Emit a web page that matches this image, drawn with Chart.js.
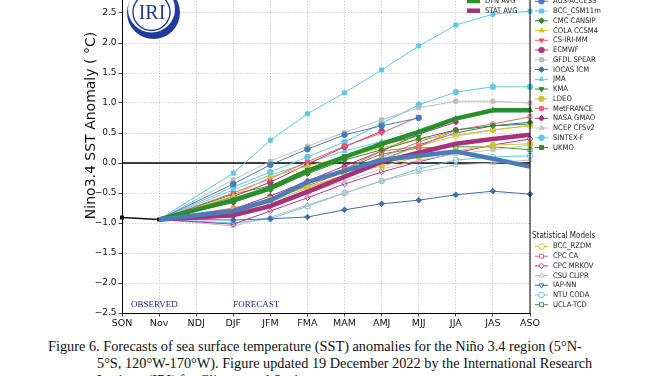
<!DOCTYPE html>
<html>
<head>
<meta charset="utf-8">
<script src="https://cdn.jsdelivr.net/npm/chart.js@4.4.0/dist/chart.umd.min.js"></script>
<style>
  html, body { margin: 0; padding: 0; background: #fff; overflow: hidden; }
  #wrap { position: relative; width: 668px; height: 376px; overflow: hidden; }
  #chart { position: absolute; left: 0; top: -70px; }
  .cap { position: absolute; font-family: "Liberation Serif", "Times New Roman", serif; font-size: 14.3px; line-height: 17px; color: #111; white-space: nowrap; }
</style>
</head>
<body>
<div id="wrap">
  <canvas id="chart" width="668" height="403"></canvas>
  <div class="cap" style="left:48px; top:338px;">Figure 6. Forecasts of sea surface temperature (SST) anomalies for the Niño 3.4 region (5°N-</div>
  <div class="cap" style="left:97px; top:355px;">5°S, 120°W-170°W). Figure updated 19 December 2022 by the International Research</div>
  <div class="cap" style="left:97px; top:372px;">Institute (IRI) for Climate and Society.</div>
</div>
<script>
// x axis seasons
const seasons = ["SON", "Nov", "NDJ", "DJF", "JFM", "FMA", "MAM", "AMJ", "MJJ", "JJA", "JAS", "ASO"];
const yTicks = [-2.5, -2.0, -1.5, -1.0, -0.5, 0.0, 0.5, 1.0, 1.5, 2.0, 2.5];

// observed SON, Nov
const observed = [-0.91, -0.94];

// dynamical models, values from DJF onwards
const dynNames = ["AUS-ACCESS", "BCC_CSM11m", "CMC CANSIP", "COLA CCSM4", "CS-IRI-MM", "ECMWF", "GFDL SPEAR", "IOCAS ICM",
                  "JMA", "KMA", "LDEO", "MetFRANCE", "NASA GMAO", "NCEP CFSv2", "SINTEX-F", "UKMO"];
const ausAccess = [-0.35, -0.03, 0.23, 0.47, 0.62, 0.75];
const bccCsm11m = [-0.17, 0.38, 0.82, 1.17, 1.55, 1.95, 2.30, 2.48, 2.53];
const cmcCansip = [-0.66, -0.45, -0.18, 0.05, 0.22, 0.40, 0.55, 0.62, 0.68];
const colaCcsm4 = [-0.55, -0.23, -0.05, 0.10, 0.25, 0.40, 0.47, 0.55, 0.63];
const csIriMm = [-0.50, -0.26, 0.02, 0.28, 0.50, 0.77];
const ecmwf = [-0.56, -0.32, -0.02, 0.27, 0.53];
const gfdlSpear = [-0.28, 0.03, 0.28, 0.51, 0.72, 0.92, 1.03, 1.03, 1.00];
const iocasIcm = [-0.95, -0.93, -0.90, -0.78, -0.68, -0.62, -0.53, -0.47, -0.52];
const jma = [-0.45, -0.20, 0.00, 0.20, 0.36, 0.50];
const kma = [-0.52, -0.38, -0.10, 0.12, 0.30, 0.45];
const ldeo = [-0.78, -0.60, -0.40, -0.20, -0.05, 0.10, 0.20, 0.30, 0.32];
const metFrance = [-0.75, -0.62, -0.35, -0.10, 0.20, 0.27, 0.55];
const nasaGmao = [-0.77, -0.55, -0.30, -0.05, 0.20, 0.48, 0.68];
const ncepCfsv2 = [-0.85, -0.70, -0.50, -0.30, -0.10, 0.05, 0.15, 0.22, 0.30];
const sintexF = [-0.40, -0.15, 0.10, 0.35, 0.66, 0.97, 1.18, 1.27, 1.27];
const ukmo = [-0.60, -0.42, -0.12, 0.10, 0.28];
const dynValues = [ausAccess, bccCsm11m, cmcCansip, colaCcsm4, csIriMm, ecmwf, gfdlSpear, iocasIcm,
                   jma, kma, ldeo, metFrance, nasaGmao, ncepCfsv2, sintexF, ukmo];

// statistical models
const statNames = ["BCC_RZDM", "CPC CA", "CPC MRKOV", "CSU CLIPR", "IAP-NN", "NTU CODA", "UCLA-TCD"];
const bccRzdm = [-0.85, -0.65, -0.42, -0.20, 0.05, 0.28, 0.45, 0.55, 0.62];
const cpcCa = [-0.80, -0.62, -0.38, -0.15, 0.10, 0.35, 0.55, 0.65, 0.77];
const cpcMrkov = [-1.02, -0.80, -0.58, -0.35, -0.15, 0.02, 0.17, 0.30, 0.40];
const csuClipr = [-1.05, -0.90, -0.70, -0.50, -0.30, -0.15, -0.03, 0.00, 0.05];
const iapNn = [-0.90, -0.68, -0.45, -0.20, 0.05, 0.30, 0.50, 0.62, 0.65];
const ntuCoda = [-1.00, -0.93, -0.72, -0.50, -0.30, -0.10, 0.05, 0.10, 0.12];
const uclaTcd = [-0.85, -0.60, -0.35, -0.10, 0.15, 0.25, 0.27, 0.27, 0.22];
const statValues = [bccRzdm, cpcCa, cpcMrkov, csuClipr, iapNn, ntuCoda, uclaTcd];

// averages
const dynAvg = [-0.62, -0.42, -0.13, 0.10, 0.32, 0.52, 0.74, 0.88, 0.88];
const statAvg = [-0.87, -0.72, -0.48, -0.23, 0.02, 0.17, 0.32, 0.40, 0.47];
const allAvg = [-0.80, -0.62, -0.32, -0.13, 0.05, 0.12, 0.19, 0.07, -0.06];

// styles: [color, marker, rotation]
const dynStyles = [
  ["#4a7db8", "circle", 0], ["#5cc8ea", "rect", 0], ["#2e8b2e", "rectRot", 0], ["#d8c430", "triangle", 0],
  ["#ea5a72", "triangle", 180], ["#b2367f", "circle", 0], ["#bdbdbd", "rect", 0], ["#3e6fa8", "rectRot", 0],
  ["#6bcaea", "triangle", 0], ["#2e8b2e", "triangle", 180], ["#d4c236", "circle", 0], ["#ec6a7c", "rect", 0],
  ["#a8307c", "rectRot", 0], ["#c4c4c4", "triangle", 0], ["#62c6e6", "circle", 0], ["#2e8b2e", "rect", 0]
];
const statStyles = [
  ["#cdbf3a", "circle", 0], ["#e8607a", "rect", 0], ["#b03a90", "rectRot", 0], ["#bdbdbd", "triangle", 0],
  ["#3e6fa8", "triangle", 180], ["#62c6e6", "circle", 0], ["#3a9a3a", "rect", 0]
];

const OFF = 70; // canvas sits 70px above the page top
const FIRST = 3; // DJF index

function fullSeries(vals) {
  return [null, observed[1], null, ...vals];
}

function modelSet(name, vals, st, open) {
  return {
    label: name,
    data: fullSeries(vals),
    borderColor: st[0],
    backgroundColor: open ? "rgba(255,255,255,0)" : st[0],
    pointBackgroundColor: open ? "rgba(255,255,255,0)" : st[0],
    pointBorderColor: st[0],
    pointStyle: st[1],
    pointRotation: st[2],
    pointRadius: c => c.dataIndex < FIRST ? 0 : 2.8,
    pointBorderWidth: 1,
    borderWidth: 1,
    spanGaps: true,
    order: 1,
    segment: {
      borderColor: c => c.p0DataIndex === 1 ? "#1a1a1a" : undefined,
      borderDash: c => c.p0DataIndex === 1 ? [1.5, 1.5] : undefined,
      borderWidth: c => c.p0DataIndex === 1 ? 0.8 : undefined
    }
  };
}

function avgSet(name, vals, color, marker) {
  const ds = modelSet(name, vals, [color, marker || "circle", 0], false);
  ds.borderWidth = 4.5;
  ds.pointRadius = c => (c.dataIndex < FIRST || !marker) ? 0 : 3;
  ds.order = 0;
  return ds;
}

const datasets = [];
dynNames.forEach((n, i) => datasets.push(modelSet(n, dynValues[i], dynStyles[i], false)));
statNames.forEach((n, i) => datasets.push(modelSet(n, statValues[i], statStyles[i], true)));
datasets.push(avgSet("AVG", allAvg, "#4a7db8"));
datasets.push(avgSet("STAT AVG", statAvg, "#a8307c"));
datasets.push(avgSet("DYN AVG", dynAvg, "#2a8f2a", "triangle"));
datasets.push({
  label: "Observed",
  data: [observed[0], observed[1]],
  borderColor: "#111",
  backgroundColor: "#111",
  borderWidth: 1.5,
  pointStyle: "rect",
  pointRadius: 1.8,
  order: 0
});

function legendRow(ctx, x, y, color, style, rot, filled, label, lw) {
  ctx.save();
  ctx.strokeStyle = color;
  ctx.lineWidth = lw || 1;
  ctx.beginPath(); ctx.moveTo(x, y); ctx.lineTo(x + 13, y); ctx.stroke();
  if (style) {
    ctx.fillStyle = filled ? color : "#fff";
    ctx.lineWidth = 1;
    Chart.helpers.drawPoint(ctx, { pointStyle: style, rotation: rot, radius: 2.8, borderWidth: 1 }, x + 6.5, y);
  }
  ctx.fillStyle = "#222";
  ctx.font = '7.6px "DejaVu Sans Condensed", "DejaVu Sans"';
  ctx.textBaseline = "middle";
  ctx.textAlign = "left";
  ctx.fillText(label, x + 18, y);
  ctx.restore();
}

const extras = {
  id: "extras",
  beforeDatasetsDraw(chart) {
    const { ctx, chartArea: a, scales: { y } } = chart;
    const y0 = y.getPixelForValue(0);
    ctx.save();
    ctx.strokeStyle = "#000";
    ctx.lineWidth = 1.6;
    ctx.beginPath(); ctx.moveTo(a.left, y0); ctx.lineTo(a.right, y0); ctx.stroke();
    ctx.restore();
  },
  afterDraw(chart) {
    const { ctx, chartArea: a, scales: { x } } = chart;
    ctx.save();
    // right spine
    ctx.strokeStyle = "#000";
    ctx.lineWidth = 1;
    ctx.beginPath(); ctx.moveTo(a.right, a.top); ctx.lineTo(a.right, a.bottom); ctx.stroke();

    // IRI logo
    ctx.fillStyle = "#fff";
    ctx.beginPath(); ctx.arc(153.5, 12.5 + OFF, 27, 0, Math.PI * 2); ctx.fill();
    ctx.fillStyle = "#1f3d96";
    ctx.beginPath(); ctx.arc(153.5, 12.5 + OFF, 26.5, 0, Math.PI * 2); ctx.fill();
    ctx.fillStyle = "#fff";
    ctx.beginPath(); ctx.arc(151.5, 9 + OFF, 23.5, 0, Math.PI * 2); ctx.fill();
    ctx.strokeStyle = "#1f3d96";
    ctx.lineWidth = 1.4;
    ctx.beginPath(); ctx.arc(151.5, 12 + OFF, 18.5, 0, Math.PI * 2); ctx.stroke();
    ctx.fillStyle = "#1f3d96";
    ctx.font = '20px "Liberation Serif"';
    ctx.textAlign = "center";
    ctx.textBaseline = "middle";
    ctx.fillText("IRI", 152, 13.5 + OFF);

    // observed / forecast labels
    ctx.fillStyle = "#1c1c8c";
    ctx.font = '9px "Liberation Serif"';
    ctx.textAlign = "left";
    ctx.fillText("OBSERVED", 131, 305 + OFF);
    ctx.fillText("FORECAST", x.getPixelForValue(FIRST), 305 + OFF);
    ctx.restore();

    // average legend inside plot
    legendRow(ctx, 467, 1 + OFF, "#2a8f2a", null, 0, true, "DYN AVG", 4.5);
    legendRow(ctx, 467, 10.7 + OFF, "#a8307c", null, 0, true, "STAT AVG", 4.5);

    // dynamical models legend
    dynNames.forEach((n, i) => {
      const st = dynStyles[i];
      legendRow(ctx, 535, 1.3 + 9.75 * i + OFF, st[0], st[1], st[2], true, n);
    });

    // statistical models legend
    ctx.save();
    ctx.fillStyle = "#222";
    ctx.font = '8px "DejaVu Sans Condensed", "DejaVu Sans"';
    ctx.textBaseline = "middle";
    ctx.fillText("Statistical Models", 532, 236 + OFF);
    ctx.restore();
    statNames.forEach((n, i) => {
      const st = statStyles[i];
      legendRow(ctx, 535, 246.5 + 9.7 * i + OFF, st[0], st[1], st[2], false, n);
    });
  }
};

new Chart(document.getElementById("chart"), {
  type: "line",
  data: { labels: seasons, datasets: datasets },
  options: {
    responsive: false,
    animation: false,
    devicePixelRatio: 1,
    layout: { padding: { left: 0, right: 138, top: 8, bottom: 0 } },
    plugins: { legend: { display: false }, tooltip: { enabled: false } },
    scales: {
      x: {
        offset: false,
        afterFit: s => { s.height = 20; },
        grid: { color: "#c4c4c4", lineWidth: 0.8, tickLength: 3.5, tickColor: "#222" },
        border: { color: "#000", width: 1, dash: [1.5, 1.5] },
        ticks: { color: "#111", font: { family: "DejaVu Sans", size: 9.5 }, padding: 1, maxRotation: 0, autoSkip: false }
      },
      y: {
        min: -2.5,
        max: 3.75,
        afterFit: s => { s.width = 122; },
        afterBuildTicks: s => { s.ticks = yTicks.map(v => ({ value: v })); },
        grid: { color: "#c4c4c4", lineWidth: 0.8, tickLength: 3.5, tickColor: "#222" },
        border: { color: "#000", width: 1, dash: [1.5, 1.5] },
        ticks: {
          color: "#111",
          font: { family: "DejaVu Sans", size: 9 },
          padding: 2,
          callback: v => (v < 0 ? "\u2212" + Math.abs(v).toFixed(1) : v.toFixed(1))
        },
        title: {
          display: true,
          text: "Nino3.4 SST Anomaly ( \u00b0C)",
          color: "#111",
          font: { family: "DejaVu Sans", size: 14 },
          padding: { top: 83, bottom: 0 }
        }
      }
    }
  },
  plugins: [extras]
});
</script>
</body>
</html>
